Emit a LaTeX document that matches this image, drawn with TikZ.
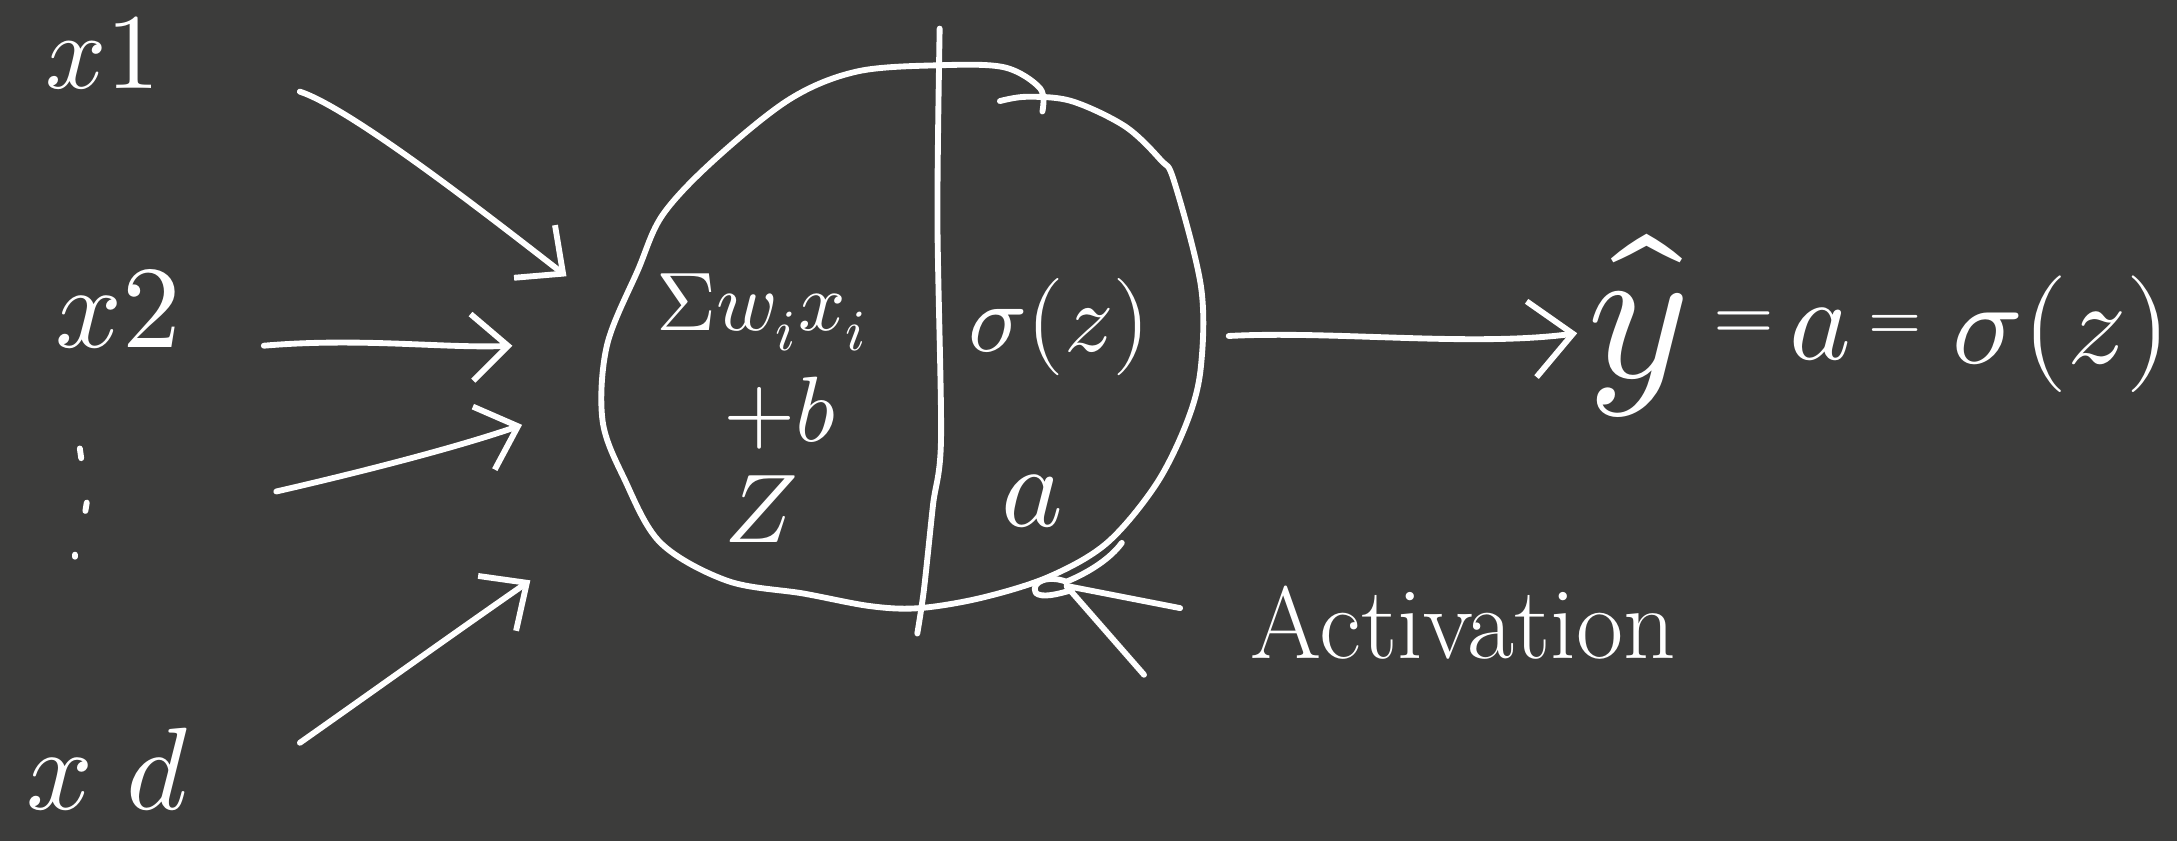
\documentclass[tikz,border=0pt]{standalone}
\usepackage{unicode-math}
\usetikzlibrary{arrows.meta}
\definecolor{board}{RGB}{60,60,59}
\newcommand\handsize[1]{\fontsize{#1}{#1}\selectfont}
\begin{document}
\begin{tikzpicture}[x=0.01cm,y=-0.01cm,
  ink/.style={draw=white,line width=1.2pt,line cap=round,line join=round},
  feed/.style={ink,-{Straight Barb[length=2.6mm,width=4.8mm]}},
  outarrow/.style={ink,-{Straight Barb[length=3mm,width=5.5mm]}},
  lbl/.style={text=white,inner sep=0pt,anchor=base},
]
\fill[board] (0,0) rectangle (1568,606);
\useasboundingbox (0,0) rectangle (1568,606);

% input labels
\node[lbl,font=\handsize{22}] (x1) at (74,64) {$x1$};
\node[lbl,font=\handsize{24}] (x2) at (85,250) {$x2$};
\node[lbl,font=\handsize{24}] (xd) at (78,583) {$x\;d$};
\draw[ink] (57.5,323) -- (58.5,330);
\draw[ink] (62.5,362) -- (61.5,368);
\draw[ink] (54,399.5) -- (54,401);

% input arrows
\coordinate (a1s) at (216,66);   \coordinate (a1e) at (408,199);
\coordinate (a2s) at (190,249);  \coordinate (a2e) at (369,249);
\coordinate (a3s) at (199,354);  \coordinate (a3e) at (376,306);
\coordinate (a4s) at (216,535);  \coordinate (a4e) at (382,418);
\draw[feed] (a1s) .. controls (252,78) and (345,150) .. (a1e);
\draw[feed] (a2s) .. controls (260,243) and (320,251) .. (a2e);
\draw[feed] (a3s) .. controls (260,340) and (330,322) .. (a3e);
\draw[feed] (a4s) .. controls (270,497) and (330,454) .. (a4e);

% neuron body
\draw[ink] plot[smooth,tension=0.55] coordinates {
 (750.8,80.3) (749.2,63.7) (723.4,48.5) (676.8,47) (617.3,51.5) (569,71.3)
 (514.4,115.2) (477.4,154.6) (459.7,194) (437.2,248.6) (434,303) (450,345.6)
 (475.8,391) (524,418.4) (578.7,427.5) (627,436.6) (662.3,438) (707.3,430.5)
 (755.6,415.4) (797.4,391) (832.8,348.7) (855.3,303) (865,263.8) (865,206.2)
 (845.6,130.4) (836,115.2) (810.3,91) (771.7,72.8) (739.5,69.7) (720.2,72.8)};
\draw[ink] plot[smooth,tension=0.5] coordinates {
 (676.8,20.6) (675.2,157.7) (677.8,315.3) (672,363.8) (665.5,424.5) (660.7,456.3)};

% texts inside the neuron
\node[lbl,font=\handsize{17}] (sum) at (549,238) {$\Sigma w_i x_i$};
\node[lbl,font=\handsize{19}] (bias) at (562,318) {$+b$};
\node[lbl,font=\handsize{20}] (zz) at (548,391) {$Z$};
\node[lbl,font=\handsize{20}] (sig) at (763,253) {$σ(z)$};
\node[lbl,font=\handsize{24}] (act) at (744,379) {$a$};

% output arrow and equation
\coordinate (os) at (885,242); \coordinate (oe) at (1136,240);
\draw[outarrow] (os) .. controls (960,238) and (1060,250) .. (oe);
\node[lbl,font=\handsize{40}] (yhat) at (1180,272) {$\hat{y}$};
\node[lbl,font=\handsize{16}] (eq1) at (1256,245) {$=$};
\node[lbl,font=\handsize{24}] (aout) at (1311,259) {$a$};
\node[lbl,font=\handsize{14}] (eq2) at (1365,245) {$=$};
\node[lbl,font=\handsize{24}] (sigout) at (1485,262) {$σ(z)$};

% activation label and pointer
\node[lbl,font=\handsize{21}] (activation) at (1054,474) {Activation};
\coordinate (pt) at (768,422);
\coordinate (pa) at (824,486);
\coordinate (pb) at (850,438);
\draw[ink] (pa) -- (pt) -- (pb);
\draw[ink] (808,391) .. controls (800,402) and (785,412) .. (768,419)
  .. controls (755,414) and (742,419) .. (746,427)
  .. controls (750,431) and (762,428) .. (772,425);
\end{tikzpicture}
\end{document}
